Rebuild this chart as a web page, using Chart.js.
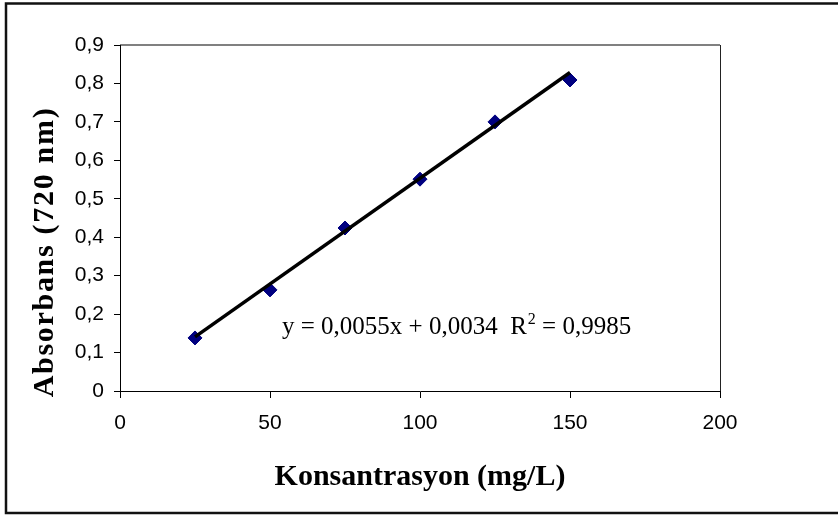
<!DOCTYPE html>
<html>
<head>
<meta charset="utf-8">
<script src="https://cdn.jsdelivr.net/npm/chart.js@4"></script>
<style>
  body { margin: 0; background: #fff; }
  canvas { display: block; }
</style>
</head>
<body>
<canvas id="mychart" width="838" height="516"></canvas>
<script>
// calibration data: concentration (mg/L) vs absorbance at 720 nm
const concentrations = [25, 50, 75, 100, 125, 150];
const absorbance = [0.138, 0.263, 0.424, 0.551, 0.700, 0.809];

// linear fit reported on the chart
const slope = 0.0055;
const intercept = 0.0034;
const rSquared = 0.9985;

// axis ticks
const xTicks = [0, 50, 100, 150, 200];
const yTicks = [0, 0.1, 0.2, 0.3, 0.4, 0.5, 0.6, 0.7, 0.8, 0.9];

const xTitle = 'Konsantrasyon (mg/L)';
const yTitle = 'Absorbans (720 nm)';

// decimal comma like the original sheet
function fmt(n) {
    return String(n).replace('.', ',');
}

const points = concentrations.map((c, i) => ({x: c, y: absorbance[i]}));
const xFirst = concentrations[0];
const xLast = concentrations[concentrations.length - 1];
const trend = [
    {x: xFirst, y: slope * xFirst + intercept},
    {x: xLast, y: slope * xLast + intercept}
];

// equation pieces, the "2" gets drawn as a superscript
const eqLeft = 'y = ' + fmt(slope) + 'x + ' + fmt(intercept) + '  R';
const eqRight = ' = ' + fmt(rSquared);

// frame, plot border, axis titles and the equation
const extras = {
    id: 'extras',
    beforeDraw(chart) {
        const c = chart.ctx;
        const a = chart.chartArea;
        c.save();
        c.fillStyle = '#fff';
        c.fillRect(0, 0, chart.width, chart.height);
        // outer frame (right side runs off the canvas)
        c.strokeStyle = '#111';
        c.lineWidth = 2.5;
        c.beginPath();
        c.moveTo(chart.width + 5, 3.5);
        c.lineTo(6, 3.5);
        c.lineTo(6, 513);
        c.lineTo(chart.width + 5, 513);
        c.stroke();
        // plot area border
        c.strokeStyle = '#808080';
        c.lineWidth = 2;
        c.beginPath();
        c.moveTo(a.left, a.top);
        c.lineTo(a.right, a.top);
        c.stroke();
        c.strokeStyle = '#222';
        c.lineWidth = 1;
        c.beginPath();
        c.moveTo(a.right + 0.5, a.top);
        c.lineTo(a.right + 0.5, a.bottom);
        c.stroke();
        c.restore();
    },
    afterDraw(chart) {
        const c = chart.ctx;
        c.save();
        c.fillStyle = '#000';
        c.font = 'bold 30px "Liberation Serif"';
        c.textAlign = 'center';
        c.textBaseline = 'alphabetic';
        c.fillText(xTitle, 420, 485);
        c.translate(53, 252);
        c.rotate(-Math.PI / 2);
        c.letterSpacing = '1.7px';
        c.fillText(yTitle, 0, 0);
        c.restore();

        c.save();
        c.fillStyle = '#000';
        c.textAlign = 'left';
        let x = 282;
        const base = 334;
        c.font = '25px "Liberation Serif"';
        c.fillText(eqLeft, x, base);
        x += c.measureText(eqLeft).width + 1;
        c.font = '16px "Liberation Serif"';
        c.fillText('2', x, base - 10);
        x += c.measureText('2').width;
        c.font = '25px "Liberation Serif"';
        c.fillText(eqRight, x, base);
        c.restore();
    }
};

const ctx = document.getElementById('mychart');

new Chart(ctx, {
    type: 'scatter',
    data: {
        datasets: [{
            type: 'line',
            data: trend,
            borderColor: '#000',
            borderWidth: 3.5,
            pointRadius: 0,
            fill: false,
            order: 0
        }, {
            data: points,
            pointStyle: 'rectRot',
            pointRadius: 7,
            backgroundColor: '#000080',
            borderColor: '#000080',
            borderWidth: 1,
            order: 1
        }]
    },
    options: {
        responsive: false,
        animation: false,
        devicePixelRatio: 1,
        layout: {
            padding: {top: 45, right: 118, left: 0, bottom: 0}
        },
        plugins: {
            legend: {display: false},
            tooltip: {enabled: false}
        },
        scales: {
            x: {
                type: 'linear',
                min: 0,
                max: 200,
                afterFit(scale) { scale.height = 125; },
                afterBuildTicks(scale) { scale.ticks = xTicks.map(v => ({value: v})); },
                border: {display: true, color: '#000', width: 1},
                grid: {drawOnChartArea: false, drawTicks: true, tickLength: 7, tickColor: '#000'},
                ticks: {
                    color: '#000',
                    font: {family: 'Liberation Sans', size: 21},
                    padding: 13,
                    maxRotation: 0,
                    callback: v => fmt(v)
                }
            },
            y: {
                type: 'linear',
                min: 0,
                max: 0.9,
                afterFit(scale) { scale.width = 120; },
                afterBuildTicks(scale) { scale.ticks = yTicks.map(v => ({value: v})); },
                border: {display: true, color: '#000', width: 1},
                grid: {drawOnChartArea: false, drawTicks: true, tickLength: 6, tickColor: '#000'},
                ticks: {
                    color: '#000',
                    font: {family: 'Liberation Sans', size: 21},
                    padding: 10,
                    callback: v => v === 0 ? '0' : fmt(v.toFixed(1))
                }
            }
        }
    },
    plugins: [extras]
});
</script>
</body>
</html>
